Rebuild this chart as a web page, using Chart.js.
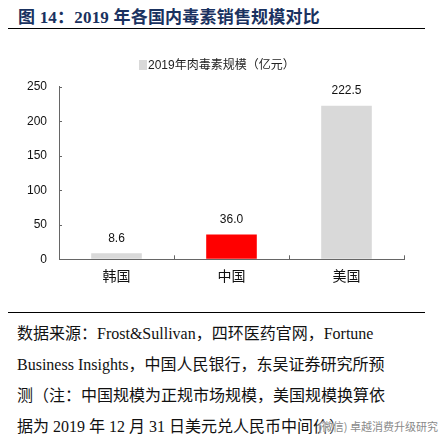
<!DOCTYPE html>
<html>
<head>
<meta charset="utf-8">
<script src="https://cdn.jsdelivr.net/npm/chart.js@4.4.1/dist/chart.umd.min.js"></script>
<style>
  html, body { margin: 0; padding: 0; background: #fff; }
  body { width: 442px; height: 447px; position: relative; overflow: hidden; }
  #title { position: absolute; left: 18px; top: 3px; font-family: "Liberation Serif", "Noto Sans CJK SC", serif; font-weight: bold; font-size: 17px; color: #1a3260; white-space: nowrap; letter-spacing: 0.2px; }
  .rule { position: absolute; left: 8px; width: 417px; height: 0; border-top: 1.5px solid #000; }
  #chartWrap { position: absolute; left: 0; top: 40px; width: 442px; height: 250px; }
  #source { position: absolute; left: 17px; top: 318px; font-family: "Liberation Serif", "Noto Sans CJK SC", serif; font-size: 16px; color: #111; line-height: 31px; white-space: nowrap; }
  #wm { position: absolute; left: 318px; top: 418px; font-family: "Noto Sans CJK SC", sans-serif; font-size: 11px; color: #8a8a8a; white-space: nowrap; text-shadow: 0 0 2px #fff, 0 0 2px #fff; }
</style>
</head>
<body>
<div id="title">图 14：2019 年各国内毒素销售规模对比</div>
<div class="rule" style="top:28px"></div>
<div id="chartWrap"><canvas id="c" width="442" height="250"></canvas></div>
<div class="rule" style="top:312px"></div>
<div id="source">数据来源：Frost&amp;Sullivan，四环医药官网，Fortune<br>Business Insights，中国人民银行，东吴证券研究所预<br>测（注：中国规模为正规市场规模，美国规模换算依<br>据为 2019 年 12 月 31 日美元兑人民币中间价）</div>
<div id="wm">(微信) 卓越消费升级研究</div>
<script>
const categories = ["韩国", "中国", "美国"];
const salesValues = [8.6, 36.0, 222.5];
const seriesLabel = "2019年肉毒素规模（亿元）";
const yTicks = [0, 50, 100, 150, 200, 250];

const barColors = ["#d9d9d9", "#ff0000", "#d9d9d9"];

const inwardTicks = {
  id: "inwardTicks",
  afterDraw(chart) {
    const ctx = chart.ctx;
    const x = chart.scales.x, y = chart.scales.y;
    const area = chart.chartArea;
    ctx.save();
    ctx.strokeStyle = "#666";
    ctx.lineWidth = 1;
    ctx.beginPath();
    y.ticks.forEach((t, i) => {
      const py = Math.round(y.getPixelForTick(i)) + 0.5;
      ctx.moveTo(area.left, py);
      ctx.lineTo(area.left + 3, py);
    });
    for (let i = 1; i <= categories.length; i++) {
      const px = Math.round(x.getPixelForValue(i - 0.5)) + 0.5;
      ctx.moveTo(px, area.bottom);
      ctx.lineTo(px, area.bottom - 4);
    }
    ctx.stroke();
    ctx.restore();
  }
};

const valueLabels = {
  id: "valueLabels",
  afterDatasetsDraw(chart) {
    const ctx = chart.ctx;
    const meta = chart.getDatasetMeta(0);
    ctx.save();
    ctx.font = '12px "Liberation Sans", Arial, sans-serif';
    ctx.fillStyle = "#111";
    ctx.textAlign = "center";
    ctx.textBaseline = "middle";
    meta.data.forEach((bar, i) => {
      ctx.fillText(salesValues[i].toFixed(1), bar.x, bar.y - 15);
    });
    ctx.restore();
  }
};

const customLegend = {
  id: "customLegend",
  afterDraw(chart) {
    const ctx = chart.ctx;
    ctx.save();
    const x0 = 139, yMid = 25;
    ctx.fillStyle = barColors[0];
    ctx.fillRect(x0, yMid - 5, 8, 10);
    ctx.font = '12px "Liberation Sans", "Noto Sans CJK SC", sans-serif';
    ctx.fillStyle = "#222";
    ctx.textAlign = "left";
    ctx.textBaseline = "middle";
    ctx.fillText(chart.data.datasets[0].label, x0 + 9, yMid + 0.5);
    ctx.restore();
  }
};

new Chart(document.getElementById("c"), {
  type: "bar",
  data: {
    labels: categories,
    datasets: [{
      label: seriesLabel,
      data: salesValues,
      backgroundColor: barColors,
      borderWidth: 0,
      barPercentage: 0.88,
      categoryPercentage: 0.5
    }]
  },
  options: {
    responsive: false,
    animation: false,
    devicePixelRatio: 1,
    layout: { padding: { left: 0, right: 38, top: 46.7, bottom: 0 } },
    plugins: { legend: { display: false }, tooltip: { enabled: false } },
    scales: {
      x: {
        grid: { display: true, drawOnChartArea: false, drawTicks: false, offset: true },
        border: { display: true, color: "#666", width: 1 },
        ticks: { padding: 8, color: "#111", font: { family: '"Noto Sans CJK SC", sans-serif', size: 14 } },
        afterFit(scale) { scale.height = 30.7; }
      },
      y: {
        min: 0, max: 250,
        afterBuildTicks(scale) { scale.ticks = yTicks.map(v => ({ value: v })); },
        grid: { display: true, drawOnChartArea: false, drawTicks: false },
        border: { display: true, color: "#666", width: 1 },
        ticks: { padding: 12, color: "#111", font: { family: '"Liberation Sans", Arial, sans-serif', size: 12 } },
        afterFit(scale) { scale.width = 59; }
      }
    }
  },
  plugins: [inwardTicks, valueLabels, customLegend]
});
</script>
</body>
</html>
